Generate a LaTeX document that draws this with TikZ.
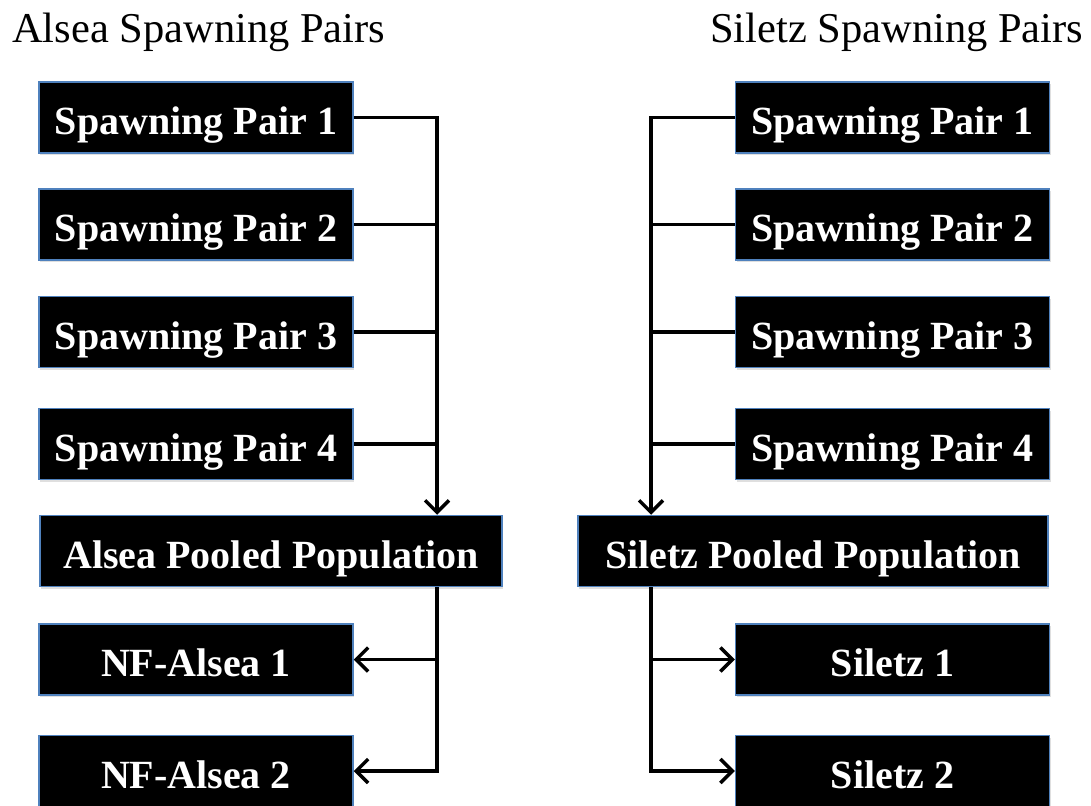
\documentclass[tikz,border=0pt]{standalone}
\usepackage{fontspec}
\setmainfont{Liberation Serif}
\usetikzlibrary{arrows.meta,shadows}
\definecolor{boxblue}{RGB}{79,129,189}
\tikzset{
  box/.style={draw=boxblue, line width=1.5pt, fill=black, text=white,
    font=\fontsize{40}{44}\selectfont\bfseries, inner sep=0pt,
    minimum height=71pt, text height=34pt, text depth=0pt,
    drop shadow={opacity=0.25, shadow xshift=1pt, shadow yshift=-2pt}},
  small/.style={box, minimum width=314pt},
  title/.style={font=\fontsize{42.5}{46}\selectfont, inner sep=0pt, anchor=base west},
  conn/.style={line width=3.5pt, black},
  arr/.style={conn, -{Straight Barb[length=12pt,width=24pt,line width=3.5pt]}}
}
\begin{document}
\begin{tikzpicture}[x=1pt,y=-1pt]
\useasboundingbox (0,0) rectangle (1091,805);
\node[title] (lt) at (12,43) {Alsea Spawning Pairs};
\node[title] (rtt) at (710,43) {Siletz Spawning Pairs};

\node[small] (a1) at (196,117.5) {Spawning Pair 1};
\node[small] (a2) at (196,224.5) {Spawning Pair 2};
\node[small] (a3) at (196,332) {Spawning Pair 3};
\node[small] (a4) at (196,444) {Spawning Pair 4};
\node[box, minimum width=462pt] (ap) at (271,551) {Alsea Pooled Population};
\node[small] (n1) at (196,659.5) {NF-Alsea 1};
\node[small] (n2) at (196,771) {NF-Alsea 2};

\node[small] (s1) at (892.5,117.5) {Spawning Pair 1};
\node[small] (s2) at (892.5,224.5) {Spawning Pair 2};
\node[small] (s3) at (892.5,332) {Spawning Pair 3};
\node[small] (s4) at (892.5,444) {Spawning Pair 4};
\node[box, minimum width=470pt] (sp) at (813,551) {Siletz Pooled Population};
\node[small] (z1) at (892.5,659.5) {Siletz 1};
\node[small] (z2) at (892.5,771) {Siletz 2};

\coordinate (lx) at (437,0);
\coordinate (rx) at (651,0);

% Alsea
\draw[arr] (a1.east) -| (lx |- ap.north);
\foreach \n in {a2,a3,a4} \draw[conn] (\n.east) -- (\n.east -| lx);
\draw[arr] (lx |- ap.south) |- (n2.east);
\draw[arr] (lx |- n1.east) -- (n1.east);

% Siletz
\draw[arr] (s1.west) -| (rx |- sp.north);
\foreach \n in {s2,s3,s4} \draw[conn] (\n.west) -- (\n.west -| rx);
\draw[arr] (rx |- sp.south) |- (z2.west);
\draw[arr] (rx |- z1.west) -- (z1.west);
\end{tikzpicture}
\end{document}
